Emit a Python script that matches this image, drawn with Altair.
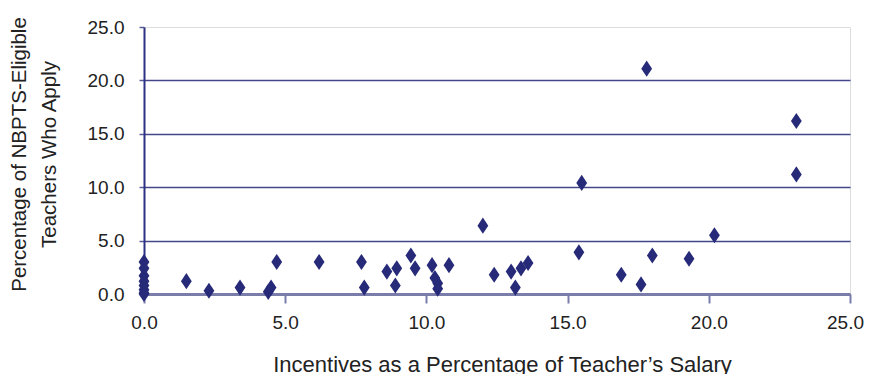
import altair as alt
import pandas as pd

# Incentives as % of teacher's salary (x) and % of NBPTS-eligible teachers who apply (y)
incentive = [0.0, 0.0, 0.0, 0.0, 0.0, 0.0, 0.0, 0.0,
             1.5, 2.3, 3.4, 4.4, 4.5, 4.7, 6.2, 7.7, 7.8,
             8.6, 8.95, 8.9, 9.45, 9.6, 10.2, 10.3, 10.4, 10.4, 10.8,
             12.0, 12.4, 13.0, 13.15, 13.35, 13.6,
             15.4, 15.5, 16.9, 17.6, 17.8, 18.0, 19.3, 20.2, 23.1, 23.1]
apply_pct = [3.0, 2.4, 1.7, 1.2, 0.8, 0.4, 0.1, 0.0,
             1.2, 0.3, 0.6, 0.2, 0.6, 3.0, 3.0, 3.0, 0.6,
             2.1, 2.4, 0.8, 3.6, 2.4, 2.7, 1.5, 1.0, 0.5, 2.7,
             6.4, 1.8, 2.1, 0.6, 2.4, 2.9,
             3.9, 10.4, 1.8, 0.9, 21.1, 3.6, 3.3, 5.5, 16.2, 11.2]

tick_values = [0, 5, 10, 15, 20, 25]

df = pd.DataFrame({"x": incentive, "y": apply_pct})

NAVY = "#262a78"
FONT = "Liberation Sans"

diamond = "M0,-1L0.67,0L0,1L-0.67,0Z"

chart = alt.Chart(df).mark_point(
    shape=diamond, filled=True, size=260, color=NAVY, opacity=1
).encode(
    x=alt.X("x:Q",
            scale=alt.Scale(domain=[0, 25], nice=False, zero=True),
            axis=alt.Axis(
                values=tick_values, format=".1f", grid=False, labelFlush=False,
                labelOffset={"condition": {"test": "datum.value >= 25", "value": -5},
                             "value": 0},
                title="Incentives as a Percentage of Teacher\u2019s Salary",
                titleFont=FONT, titleFontSize=22, titleFontWeight="normal",
                titleColor="#222222", titleX=358, titleY=60,
                titleBaseline="top", titleAlign="center",
                labelFont=FONT, labelFontSize=19, labelColor="#222222",
                labelPadding=10, tickSize=9, tickColor="#7a7caa", tickWidth=2,
                domainColor="#7a7caa", domainWidth=3)),
    y=alt.Y("y:Q",
            scale=alt.Scale(domain=[0, 25], nice=False),
            axis=alt.Axis(
                values=tick_values, format=".1f", grid=True, labelFlush=False,
                gridColor={"condition": {"test": "datum.value >= 25", "value": "transparent"},
                           "value": "#43478a"},
                gridWidth=1.5,
                title=["Percentage of NBPTS-Eligible", "Teachers Who Apply"],
                titleFont=FONT, titleFontSize=20.5, titleFontWeight="normal",
                titleColor="#222222", titleLineHeight=30,
                titleX=-135, titleY=127, titleAngle=270,
                titleBaseline="top", titleAlign="center",
                labelFont=FONT, labelFontSize=19, labelColor="#222222",
                labelPadding=15, tickSize=5, tickColor="#5a5d9a", tickWidth=1.5,
                domainColor="#2d3184", domainWidth=2)),
).properties(
    width=706, height=267,
    autosize=alt.AutoSizeParams(type="none"),
    padding={"left": 136, "top": 19, "right": 14, "bottom": 80},
).configure_view(
    stroke="#8c8c8c", strokeWidth=3
).configure(background="white")

chart.save("out.html", embed_options={"renderer": "svg", "actions": False})
